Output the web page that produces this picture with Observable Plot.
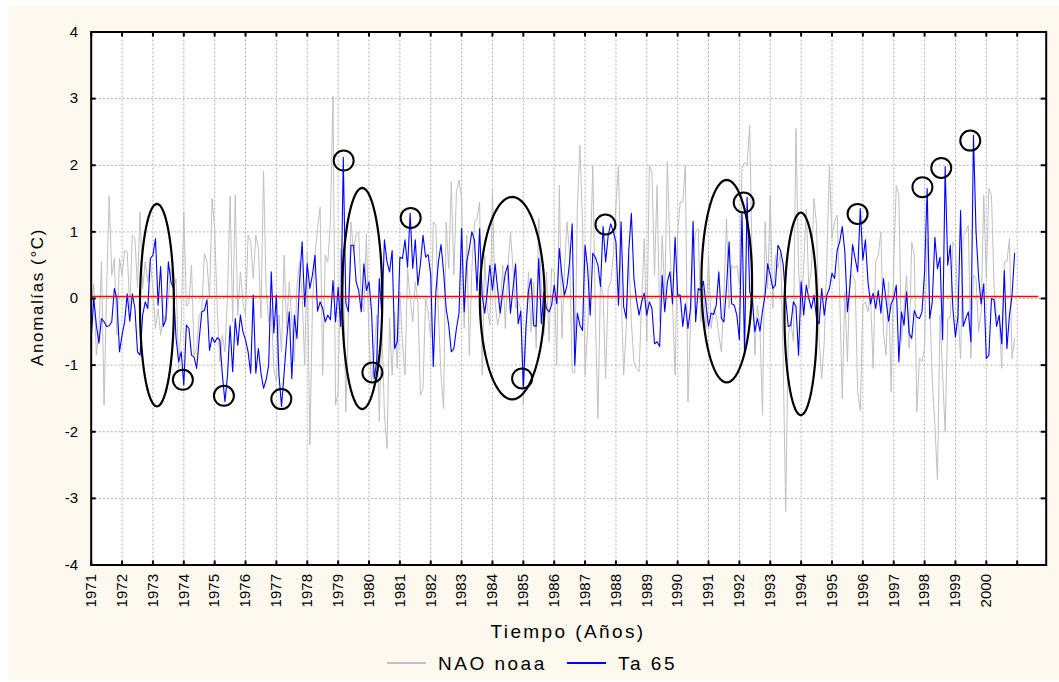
<!DOCTYPE html>
<html><head><meta charset="utf-8">
<script src="https://cdn.jsdelivr.net/npm/d3@7"></script>
<script src="https://cdn.jsdelivr.net/npm/@observablehq/plot@0.6"></script>
<style>
body{margin:0;background:#fff;font-family:Arial,"Liberation Sans",sans-serif;}
#bg{position:absolute;left:8px;top:5px;width:1051px;height:675px;background:#fef9ee;}
#chart{position:absolute;left:0;top:0;}
.lbl{position:absolute;color:#000;white-space:nowrap;line-height:1;}
.sw{position:absolute;height:1.5px;width:39px;}
</style></head><body>
<div id="bg"></div>
<div id="chart"></div>
<div class="lbl" id="ylab" style="left:37px;top:297px;font-size:17px;letter-spacing:1.6px;transform:translate(-50%,-50%) rotate(-90deg);">Anomalías (°C)</div>
<div class="lbl" id="xlab" style="left:568px;top:631px;font-size:19px;letter-spacing:2.4px;transform:translate(-50%,-50%);">Tiempo (Años)</div>
<div class="sw" style="left:387px;top:662px;background:#c0c0c0;"></div>
<div class="lbl" style="left:438px;top:663px;font-size:19px;letter-spacing:2.5px;transform:translateY(-50%);">NAO noaa</div>
<div class="sw" style="left:567px;top:662px;background:#0000ff;"></div>
<div class="lbl" style="left:618px;top:663px;font-size:19px;letter-spacing:2.5px;transform:translateY(-50%);">Ta 65</div>
<script>
// monthly series, Jan 1971 .. Dec 2000
const nao = [
-0.15,0.22,-0.85,-0.5,0.55,-1.6,0.15,1.54,0.35,0.6,-0.55,0.6,0.35,0.72,0.7,-0.15,0.95,0.9,0.17,1.3,0.15,0.55,0.25,0.55,0.15,-0.45,-0.15,-0.55,-0.25,-0.35,0.0,0.45,0.15,0.3,-1.05,-0.4,1.3,-0.12,-0.05,0.5,-0.85,-0.75,-0.25,-0.2,0.67,0.55,0.0,
1.5,1.05,-0.15,-0.95,-0.55,-0.8,0.05,1.54,-0.35,1.55,-0.25,0.4,-0.05,-0.25,0.95,0.85,0.3,0.95,0.75,-0.3,1.91,0.15,-0.35,-0.15,-1.05,-1.25,-0.25,-0.8,0.65,-0.45,0.25,-0.35,-0.95,0.2,0.55,0.05,-1.0,0.7,-2.2,-0.15,0.65,1.05,1.37,-1.15,0.65,0.55,1.15,
3.04,-1.6,-1.4,0.75,0.45,-1.7,-0.25,1.15,0.7,0.97,1.0,0,-0.2,0.97,-0.65,-1.25,-0.85,-0.25,-1.85,-0.4,-1.75,-2.25,-0.3,-1.15,-0.2,-1.05,0.1,-0.65,-1.15,0.45,0,-0.35,0.25,-0.05,-1.45,-1.35,0,-0.2,-0.6,1.15,1.1,-0.25,-1.15,-1.65,1.15,0.45,
1.75,0.35,1.6,1.78,1.5,-0.45,0.95,-0.85,0.45,1.15,1.2,1.45,-1.15,0.65,-0.15,-0.4,1.65,-0.05,-0.4,-0.2,0.5,-0.45,0.45,1.0,0.45,-0.15,-0.05,-0.15,-1.6,-0.55,0.4,-0.5,0.25,-0.75,1.2,0.15,-0.55,0.4,-0.65,0.45,0.4,-1.0,1.7,-0.6,0.45,1.15,0.65,
-1.1,-1.12,1.35,2.3,1.15,-1.15,-0.45,0.5,2.0,-0.25,-1.8,0.25,0.05,-1.2,0.15,0.25,0.65,1.4,2.0,0.15,-1.15,-0.45,0.65,-0.35,-0.95,-1.05,-1.1,-0.05,0.9,-0.65,2.0,1.9,0.35,1.7,-0.35,0.95,0.05,2.05,0.75,-0.05,-1.15,1.0,1.45,1.45,2.0,-1.55,-0.35,
0.65,1.0,1.05,-0.35,0.15,-0.45,0.65,-0.45,-0.15,-0.25,-0.55,-0.8,0.05,1.2,-0.15,0.5,0.45,0.5,0.2,1.95,2.05,2.0,2.6,0.45,-0.85,-0.1,-0.45,-1.75,1.15,0.15,1.55,-0.15,0.65,0.45,0.7,-0.85,-3.2,-0.55,-0.35,-0.65,2.55,0.45,-0.25,0.5,1.35,0.15,
0.45,1.5,1.1,-0.6,-1.2,-0.65,0.55,2.0,0.9,1.15,1.25,0.05,-1.5,0.1,-0.95,0.35,0.35,0.25,-1.4,-1.68,-0.1,-0.05,-0.2,0.05,-1.05,0.55,0.65,1.0,-0.5,-0.85,0.25,-1.4,0.55,1.7,1.55,-0.65,-0.15,0.35,-0.75,0.85,0.65,-1.7,-0.9,-0.95,-0.75,0.9,-0.05,
-1.25,-1.9,-2.72,-0.25,-1.15,-2.0,-0.3,-0.28,0.85,0.8,-0.2,-0.9,0.95,1.0,1.1,-0.9,0.35,0.3,-0.5,-0.2,1.55,0.3,1.65,1.55,0.2,-0.3,-0.3,-1.05,0.55,0.55,0.9,-0.9,-0.6
];
const ta65 = [
-0.6,0.0,-0.4,-0.67,-0.3,-0.35,-0.42,-0.41,-0.35,0.15,0.0,-0.8,-0.55,-0.35,0.07,-0.34,0.07,-0.15,-0.8,-0.85,-0.25,-0.05,-0.15,0.6,0.65,0.9,-0.1,0.48,-0.42,-0.32,0.55,0.25,0.15,-0.6,-0.95,-0.8,-1.3,-0.4,-0.45,-0.85,-0.88,-1.05,-0.6,-0.2,-0.18,-0.02,-0.78,
-0.58,-0.66,-0.59,-0.62,-1.15,-1.55,-1.15,-0.41,-1.1,-0.3,-0.7,-0.25,-0.5,-0.62,-0.8,-1.12,0.05,-1.12,-0.75,-1.12,-1.35,-1.22,-1.0,0.4,-0.52,0.05,-1.15,-1.62,-1.12,-0.6,-0.2,-1.2,-0.25,-0.6,0.25,0.85,-0.12,0.52,0.15,0.35,0.65,-0.19,-0.05,-0.15,-0.35,-0.25,-0.32,
0.27,-0.35,0.17,-0.42,2.12,-0.07,-0.2,0.8,0.8,0.25,0.12,-0.2,0.52,0.12,0.25,-0.2,-1.2,-0.95,0.3,-0.25,0.88,0.55,0.4,0.72,-0.75,-0.65,0.62,0.6,0.88,0.47,1.28,0.45,0.88,0.2,0.52,0.95,0.62,0.66,0.35,-1.02,0.1,0.55,0.81,0.4,-0.15,-0.4,
-0.8,-0.75,-0.45,-0.22,1.05,-0.2,0.55,0.75,1.0,0.88,0.12,1.05,0.05,-0.22,0.1,0.5,0.12,0.52,0.15,-0.22,0.1,0.38,0.5,-0.22,0.15,0.52,-0.38,-0.19,-1.32,-0.45,0.12,0.3,-0.4,-0.42,0.6,-0.38,0.1,-0.15,-0.2,-0.1,0.2,-0.08,0.75,0.35,0.05,0.2,0.55,
1.12,-1.0,-0.22,-0.4,-0.48,0.8,0.45,-0.25,0.68,0.62,0.5,0.18,1.08,0.55,0.95,1.12,1.0,0.85,-0.1,1.15,-0.12,-0.3,0.72,1.28,0.3,-0.02,-0.25,-0.05,0.08,-0.25,-0.05,-0.15,-0.68,-0.65,-0.72,0.35,-0.2,0.25,0.4,-0.08,0.92,0.05,0.05,-0.42,-0.08,-0.45,-0.15,
1.16,-0.35,0.15,0.12,0.26,-0.08,-0.42,-0.22,-0.24,-0.1,0.4,-0.3,-0.35,0.18,0.85,-0.08,-0.1,-0.25,-0.62,1.3,-0.82,1.52,0.1,-0.02,-0.5,-0.3,-0.49,-0.18,0.05,0.52,0.35,0.15,0.2,0.8,0.72,0.52,0,-0.42,-0.4,-0.05,-0.12,-0.85,0.25,-0.25,0.2,0,
-0.15,0.05,-0.3,-0.38,0.15,-0.25,0.05,0.15,0.38,0.3,0.72,0.85,1.08,0.7,-0.2,0.2,0.81,0.6,0.4,1.35,0.58,0.88,0.25,-0.08,0.08,-0.15,0.12,-0.22,0.3,-0.02,-0.34,-0.08,0,0.2,-0.95,-0.2,-0.4,0.1,-0.52,-0.6,-0.18,-0.28,-0.3,-0.2,0.4,1.65,-0.3,
-0.05,0.92,0.45,0.62,-0.62,1.98,0.5,0.8,-0.15,-0.58,-0.25,1.32,-0.42,-0.3,-0.2,-0.65,2.45,1.0,0.32,-0.08,0.22,-0.9,-0.85,0,-0.02,-0.42,-0.25,-0.68,0.42,-0.75,-0.25,0.05,0.68
];
const startYear = 1971;
const yearTicks = [1971,1972,1973,1974,1975,1976,1977,1978,1979,1980,1981,1982,1983,1984,1985,1986,1987,1988,1989,1990,1991,1992,1993,1994,1995,1996,1997,1998,1999,2000,2001];
const yTicks = [-4,-3,-2,-1,0,1,2,3,4];
const refLevel = 0.03;
// hand-drawn annotations (year, value)
const circleYears  = [1973.97,1975.30,1977.16,1979.18,1980.11,1981.35,1984.96,1987.66,1992.14,1995.83,1997.93,1998.54,1999.48];
const circleValues = [-1.22,-1.46,-1.51,2.07,-1.11,1.21,-1.20,1.11,1.44,1.27,1.67,1.96,2.37];
const ellipseCx = [1973.13,1979.78,1984.64,1991.59,1993.99];
const ellipseCy = [-0.10,0.00,0.005,0.26,-0.23];
const ellipseRx = [0.55,0.65,1.05,0.82,0.53];
const ellipseRy = [1.52,1.66,1.52,1.52,1.52];

const data = ta65.map((v, i) => ({t: startYear + i / 12, ta: v, nao: nao[i]}));
const circles = circleYears.map((x, i) => ({x, y: circleValues[i]}));
const ellipsePts = [];
ellipseCx.forEach((cx, k) => {
  for (let j = 0; j <= 72; j++) {
    const a = (j / 72) * 2 * Math.PI;
    ellipsePts.push({k, x: cx + ellipseRx[k] * Math.cos(a), y: ellipseCy[k] + ellipseRy[k] * Math.sin(a)});
  }
});
const grid = {stroke: "#b0b0b0", strokeDasharray: "2,2", strokeWidth: 1};
const chart = Plot.plot({
  width: 1059, height: 610,
  marginLeft: 90.7, marginRight: 13.3, marginTop: 31.5, marginBottom: 45.5,
  style: {background: "transparent", fontFamily: "Arial, 'Liberation Sans', sans-serif", color: "black"},
  x: {domain: [1971, 2001.94]},
  y: {domain: [-4, 4]},
  marks: [
    Plot.frame({fill: "white"}),
    Plot.ruleX(yearTicks.slice(1), grid),
    Plot.ruleY(yTicks.slice(1, -1), grid),
    Plot.line(data, {x: "t", y: "nao", stroke: "#c0c0c0", strokeWidth: 1}),
    Plot.line(data, {x: "t", y: "ta", stroke: "#0000ff", strokeWidth: 1.1}),
    Plot.ruleY([refLevel], {x1: 1971, x2: 2001.7, stroke: "#ff0000", strokeWidth: 1.5}),
    Plot.line(ellipsePts, {x: "x", y: "y", z: "k", stroke: "black", strokeWidth: 2.2}),
    Plot.dot(circles, {x: "x", y: "y", r: 10, stroke: "black", strokeWidth: 2, fill: "none"}),
    Plot.frame({stroke: "black", strokeWidth: 2}),
    Plot.axisX({ticks: yearTicks, tickFormat: d => d === 2001 ? "" : String(d), tickRotate: -90, tickSize: -4, tickPadding: 13, fontSize: 15, label: null, strokeWidth: 2}),
    Plot.axisX({anchor: "top", ticks: yearTicks, tickFormat: () => "", tickSize: -4, label: null, strokeWidth: 2}),
    Plot.axisY({ticks: yTicks, tickFormat: d => String(d), tickSize: -5, tickPadding: 18, fontSize: 15, label: null, strokeWidth: 2}),
    Plot.axisY({anchor: "right", ticks: yTicks, tickFormat: () => "", tickSize: -6, label: null, strokeWidth: 2})
  ]
});
document.getElementById("chart").appendChild(chart);
</script>
</body></html>
